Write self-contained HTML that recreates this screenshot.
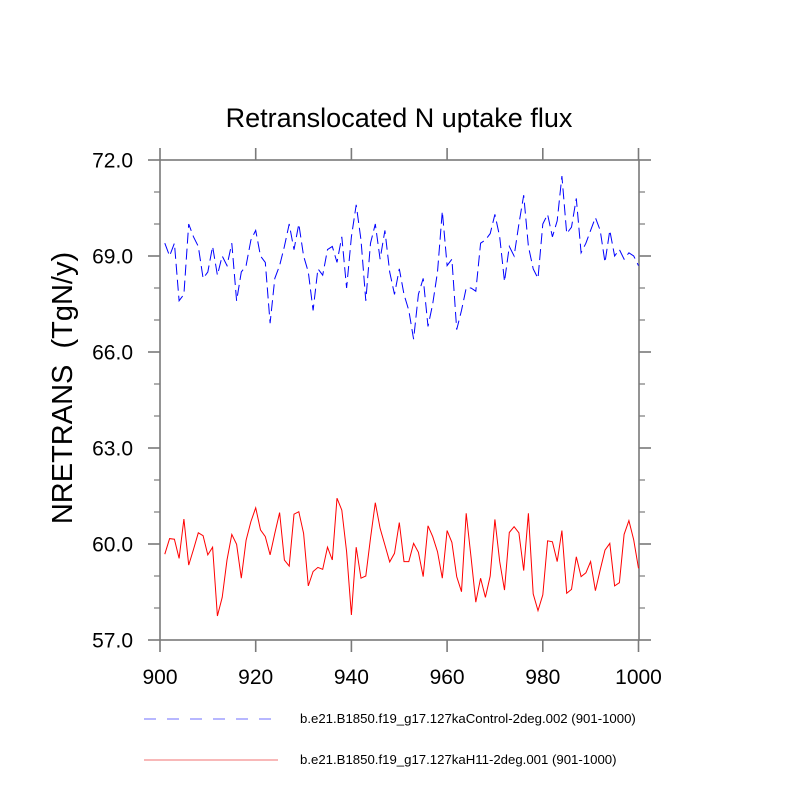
<!DOCTYPE html>
<html><head><meta charset="utf-8"><style>
body{margin:0;background:#fff}
svg{display:block;font-family:"Liberation Sans",sans-serif}
</style></head><body>
<svg id="chart" width="800" height="800" viewBox="0 0 800 800" xmlns="http://www.w3.org/2000/svg">
<text x="399" y="127" font-size="27" text-anchor="middle">Retranslocated N uptake flux</text>
<text transform="translate(72,388) rotate(-90)" font-size="29" text-anchor="middle" xml:space="preserve">NRETRANS  (TgN/y)</text>
<g id="axes"></g>
<g id="series"></g>
<g>
<line x1="144" y1="719" x2="276" y2="719" stroke="#6f6fff" stroke-width="1" stroke-dasharray="12 11"/>
<text x="300" y="723" font-size="13.2">b.e21.B1850.f19_g17.127kaControl-2deg.002 (901-1000)</text>
<line x1="144" y1="760" x2="278" y2="760" stroke="#f07070" stroke-width="1"/>
<text x="300" y="764" font-size="13.2">b.e21.B1850.f19_g17.127kaH11-2deg.001 (901-1000)</text>
</g>
</svg>
<script>
const years=[];for(let y=901;y<=1000;y++)years.push(y);
const controlValues=[69.4,69.0,69.4,67.6,67.8,70.0,69.6,69.3,68.3,68.5,69.3,68.4,69.0,68.7,69.4,67.6,68.5,68.7,69.5,69.8,69.0,68.8,66.9,68.3,68.7,69.3,70.0,69.2,70.0,69.0,68.5,67.3,68.6,68.4,69.2,69.3,68.8,69.6,68.0,69.6,70.6,69.5,67.6,69.4,70.0,68.9,69.8,68.5,67.8,68.6,
67.8,67.3,66.4,67.8,68.3,66.8,67.5,68.5,70.4,68.7,68.9,66.7,67.3,68.0,68.0,67.9,69.4,69.5,69.7,70.3,69.6,68.2,69.3,69.0,70.0,70.9,69.3,68.6,68.3,70.0,70.3,69.6,70.1,71.5,69.7,69.9,70.8,69.1,69.4,69.8,70.2,69.8,68.8,69.8,69.0,69.2,68.9,69.1,69.0,68.7];
const h11Values=[59.68,60.17,60.15,59.55,60.78,59.34,59.83,60.35,60.26,59.66,59.9,57.75,58.33,59.5,60.3,59.99,58.93,60.12,60.7,61.13,60.44,60.23,59.66,60.33,60.98,59.5,59.31,60.93,61.01,60.33,58.69,59.14,59.27,59.21,59.9,59.5,61.43,61.06,59.76,57.78,59.9,58.93,59.0,60.18,61.29,60.49,59.97,59.44,59.71,60.67,
59.45,59.45,60.02,59.74,58.98,60.57,60.23,59.76,58.93,60.42,60.05,58.98,58.51,60.96,59.6,58.18,58.93,58.33,59.0,60.77,59.45,58.56,60.36,60.54,60.35,59.17,60.96,58.44,57.92,58.41,60.1,60.07,59.45,60.42,58.46,58.58,59.6,58.98,59.1,59.45,58.54,59.19,59.81,60.02,58.69,58.79,60.3,60.73,60.13,59.24];
const xTicks=[900,920,940,960,980,1000];
const yTicks=[57,60,63,66,69,72];
const yTickLabels=["57.0","60.0","63.0","66.0","69.0","72.0"];
const yMinor=[58,59,61,62,64,65,67,68,70,71];

const L=160,R=639,T=160,B=640;
const xs=v=>L+(v-900)*(638.5-160)/100;
const ys=v=>B-(v-57)*(B-T)/15;
const NS="http://www.w3.org/2000/svg";
const axes=document.getElementById('axes'),series=document.getElementById('series');
function mk(tag,attrs,parent){const e=document.createElementNS(NS,tag);for(const k in attrs)e.setAttribute(k,attrs[k]);parent.appendChild(e);return e;}
const ac="#7a7a7a";
let f=mk('rect',{x:L,y:T,width:R-L,height:B-T,fill:'none',stroke:ac,'stroke-width':1.6},axes);


xTicks.forEach(v=>{
 let t=mk('line',{x1:xs(v),x2:xs(v),y1:B,y2:B+12,stroke:ac,'stroke-width':1.6},axes);
 
 
 let t2=mk('line',{x1:xs(v),x2:xs(v),y1:T,y2:T-12,stroke:ac,'stroke-width':1.6},axes);
 
 
 let lb=mk('text',{x:xs(v),y:B+44,'font-size':21,'text-anchor':'middle'},axes);lb.textContent=v;
 
 
});
yTicks.forEach((v,i)=>{
 let t=mk('line',{x1:L-12,x2:L,y1:ys(v),y2:ys(v),stroke:ac,'stroke-width':1.6},axes);
 
 
 let t2=mk('line',{x1:R,x2:R+12,y1:ys(v),y2:ys(v),stroke:ac,'stroke-width':1.6},axes);
 
 
 let lb=mk('text',{x:133,y:ys(v)+7.5,'font-size':21,'text-anchor':'end'},axes);lb.textContent=yTickLabels[i];
 
 
});
yMinor.forEach(v=>{
 let t=mk('line',{x1:L-6,x2:L,y1:ys(v),y2:ys(v),stroke:ac,'stroke-width':1.2},axes);
 
 
 let t2=mk('line',{x1:R,x2:R+6,y1:ys(v),y2:ys(v),stroke:ac,'stroke-width':1.2},axes);
 
 
});
const pts=a=>a.map((v,i)=>xs(years[i]).toFixed(1)+','+ys(v).toFixed(1)).join(' ');
let pb=mk('polyline',{points:pts(controlValues),fill:'none',stroke:'#0000ff','stroke-width':1,'stroke-dasharray':'11 5'},series);


let pr=mk('polyline',{points:pts(h11Values),fill:'none',stroke:'#ff0000','stroke-width':1},series);


</script>
</body></html>
